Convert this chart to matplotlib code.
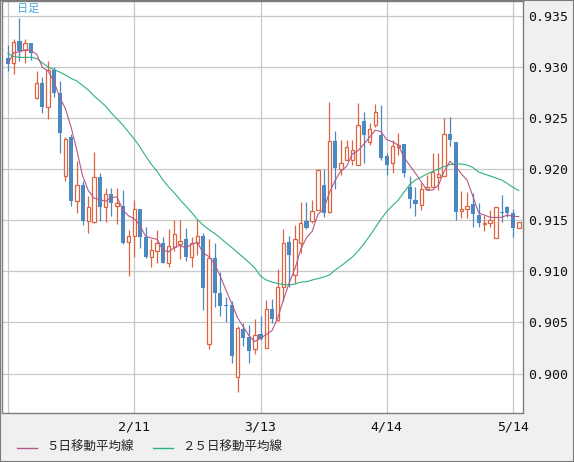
import numpy as np
import pandas as pd
import matplotlib
matplotlib.use("Agg")
import matplotlib.pyplot as plt
from matplotlib.lines import Line2D
from matplotlib.patches import Rectangle

# daily candles (price)
open_ = [0.93095, 0.93040, 0.93258, 0.93170, 0.93239, 0.92703, 0.92850, 0.92614, 0.92974, 0.92752,
         0.91938, 0.92317, 0.91693, 0.91847, 0.91497, 0.91481, 0.91922, 0.91634, 0.91759, 0.91641,
         0.91641, 0.91284, 0.91347, 0.91609, 0.91334, 0.91144, 0.91205, 0.91276, 0.91085, 0.91242,
         0.91269, 0.91318, 0.91144, 0.91276, 0.91347, 0.90287, 0.91129, 0.90786, 0.90671, 0.90671,
         0.89962, 0.90436, 0.90354, 0.90237, 0.90384, 0.90253, 0.90629, 0.90524, 0.90847, 0.91288,
         0.90965, 0.91282, 0.91494, 0.91494, 0.91602, 0.91847, 0.91578, 0.92278, 0.91999, 0.92092,
         0.92092, 0.92043, 0.92474, 0.92265, 0.92432, 0.92337, 0.92131, 0.92066, 0.92222, 0.92246,
         0.91825, 0.91700, 0.91651, 0.91805, 0.91830, 0.91928, 0.91935, 0.92347, 0.92265, 0.91597,
         0.91612, 0.91661, 0.91558, 0.91465, 0.91478, 0.91325, 0.91582, 0.91628, 0.91570, 0.91423]
high = [0.93219, 0.93278, 0.93487, 0.93278, 0.93242, 0.92964, 0.92908, 0.93062, 0.93008, 0.92866,
        0.92317, 0.92344, 0.92082, 0.91886, 0.91739, 0.92173, 0.91965, 0.91818, 0.91818, 0.91818,
        0.91798, 0.91411, 0.91705, 0.91612, 0.91435, 0.91315, 0.91411, 0.91337, 0.91416, 0.91504,
        0.91504, 0.91423, 0.91334, 0.91504, 0.91374, 0.91315, 0.91276, 0.90994, 0.90749, 0.90715,
        0.90465, 0.90499, 0.90475, 0.90532, 0.90563, 0.90720, 0.90730, 0.91021, 0.91413, 0.91347,
        0.91460, 0.91683, 0.91683, 0.91700, 0.91998, 0.91999, 0.92663, 0.92376, 0.92288, 0.92288,
        0.92288, 0.92654, 0.92565, 0.92452, 0.92638, 0.92631, 0.92158, 0.92288, 0.92360, 0.92249,
        0.91935, 0.91825, 0.91869, 0.91945, 0.92158, 0.92161, 0.92499, 0.92509, 0.92268, 0.91793,
        0.91781, 0.91772, 0.91674, 0.91553, 0.91602, 0.91628, 0.91749, 0.91641, 0.91612, 0.91487]
low = [0.92967, 0.92932, 0.93062, 0.93040, 0.93072, 0.92690, 0.92553, 0.92491, 0.92712, 0.92158,
       0.91891, 0.91641, 0.91577, 0.91455, 0.91372, 0.91475, 0.91497, 0.91484, 0.91543, 0.91465,
       0.91269, 0.90955, 0.91141, 0.91230, 0.91132, 0.91046, 0.91080, 0.91083, 0.91040, 0.91200,
       0.91122, 0.91102, 0.91040, 0.91161, 0.90622, 0.90237, 0.90651, 0.90563, 0.90504, 0.90100,
       0.89821, 0.90270, 0.90106, 0.90191, 0.90328, 0.90247, 0.90492, 0.90514, 0.90710, 0.90850,
       0.90884, 0.91178, 0.91420, 0.91478, 0.91598, 0.91529, 0.91575, 0.91805, 0.91945, 0.92090,
       0.92043, 0.92040, 0.92060, 0.92239, 0.92418, 0.92092, 0.91945, 0.91968, 0.92141, 0.91922,
       0.91619, 0.91543, 0.91602, 0.91798, 0.91828, 0.91798, 0.91932, 0.92234, 0.91509, 0.91521,
       0.91521, 0.91438, 0.91438, 0.91399, 0.91432, 0.91323, 0.91484, 0.91530, 0.91333, 0.91423]
close = [0.93036, 0.93253, 0.93163, 0.93236, 0.93138, 0.92847, 0.92614, 0.92974, 0.92746, 0.92352,
         0.92298, 0.91693, 0.91847, 0.91497, 0.91628, 0.91922, 0.91634, 0.91756, 0.91671, 0.91671,
         0.91282, 0.91347, 0.91609, 0.91334, 0.91141, 0.91210, 0.91276, 0.91085, 0.91246, 0.91367,
         0.91301, 0.91144, 0.91276, 0.91347, 0.90835, 0.91129, 0.90786, 0.90661, 0.90666, 0.90174,
         0.90443, 0.90345, 0.90223, 0.90380, 0.90335, 0.90629, 0.90534, 0.90844, 0.91276, 0.91164,
         0.91315, 0.91472, 0.91423, 0.91592, 0.91994, 0.91576, 0.92278, 0.92017, 0.92060, 0.92216,
         0.92190, 0.92435, 0.92337, 0.92396, 0.92565, 0.92115, 0.92043, 0.92229, 0.92239, 0.91968,
         0.91713, 0.91661, 0.91808, 0.91825, 0.91979, 0.91955, 0.92347, 0.92288, 0.91578, 0.91612,
         0.91641, 0.91563, 0.91470, 0.91478, 0.91504, 0.91628, 0.91573, 0.91576, 0.91423, 0.91487]

# 25-day moving average as drawn on the chart
ma25 = [0.93136, 0.93106, 0.93098, 0.93098, 0.93098, 0.93087, 0.93043, 0.93003, 0.92979, 0.92954,
        0.92925, 0.92891, 0.92866, 0.92822, 0.92778, 0.92719, 0.92670, 0.92621, 0.92553, 0.92494,
        0.92435, 0.92366, 0.92298, 0.92219, 0.92131, 0.92048, 0.91979, 0.91896, 0.91827, 0.91769,
        0.91700, 0.91641, 0.91578, 0.91509, 0.91455, 0.91411, 0.91372, 0.91328, 0.91279, 0.91234,
        0.91185, 0.91137, 0.91088, 0.91034, 0.90955, 0.90916, 0.90896, 0.90882, 0.90872, 0.90867,
        0.90877, 0.90896, 0.90899, 0.90916, 0.90931, 0.90945, 0.90965, 0.91014, 0.91053, 0.91097,
        0.91141, 0.91200, 0.91269, 0.91347, 0.91430, 0.91514, 0.91587, 0.91646, 0.91700, 0.91778,
        0.91852, 0.91896, 0.91925, 0.91955, 0.91979, 0.92004, 0.92028, 0.92048, 0.92053, 0.92053,
        0.92043, 0.92019, 0.91974, 0.91955, 0.91935, 0.91916, 0.91896, 0.91862, 0.91823, 0.91793]

tick_pos = [0, 22, 44, 66, 88]
tick_labels = ["", "2/11", "3/13", "4/14", "5/14"]
y_ticks = [0.900, 0.905, 0.910, 0.915, 0.920, 0.925, 0.930, 0.935]

UP = "#dd6440"
DOWN = "#4a89c2"
MA5_C = "#b5588a"
MA25_C = "#2cb27a"
JP = ["Noto Sans CJK JP", "DejaVu Sans"]

df = pd.DataFrame({"open": open_, "high": high, "low": low, "close": close})
df["ma5"] = df["close"].rolling(5, min_periods=1).mean()
df["ma25"] = ma25
x = np.arange(len(df))

fig = plt.figure(figsize=(5.74, 4.62), dpi=100, facecolor="#f0f0f0")
ax = fig.add_axes([1.5 / 574, 49.5 / 462, 521.5 / 574, 411.5 / 462])
ax.set_facecolor("white")

for y in y_ticks:
    ax.axhline(y, color="#c8c8c8", lw=0.9, zorder=0)
for t in tick_pos:
    ax.axvline(t, color="#c8c8c8", lw=0.9, zorder=0)

up = df["close"] >= df["open"]
dn = ~up
min_h = 0.00008

# wicks
top = np.maximum(df["open"], df["close"])
bot = np.minimum(df["open"], df["close"])
ax.vlines(x[up], top[up], df["high"][up], color=UP, lw=0.9, zorder=2)
ax.vlines(x[up], df["low"][up], bot[up], color=UP, lw=0.9, zorder=2)
ax.vlines(x[dn], df["low"][dn], df["high"][dn], color=DOWN, lw=0.9, zorder=2)

# bodies
ax.bar(x[up], np.maximum(top[up] - bot[up], min_h), bottom=bot[up], width=0.6,
       facecolor="white", edgecolor=UP, linewidth=0.9, zorder=2)
ax.bar(x[dn], np.maximum(top[dn] - bot[dn], min_h), bottom=bot[dn], width=0.72,
       color=DOWN, linewidth=0, zorder=2)

ax.plot(x, df["ma25"], color=MA25_C, lw=0.8, zorder=3)
ax.plot(x, df["ma5"], color=MA5_C, lw=0.8, zorder=3)

ax.set_xlim(-1.13, 89.73)
ax.set_ylim(0.89618, 0.93650)
ax.set_xticks(tick_pos)
ax.set_xticklabels(tick_labels)
ax.set_yticks(y_ticks)
ax.set_yticklabels([f"{v:.3f}" for v in y_ticks])
ax.yaxis.tick_right()
ax.tick_params(length=0, labelsize=9.5, colors="#111111")
ax.tick_params(axis="x", pad=6)
ax.tick_params(axis="y", pad=4)
for lbl in ax.get_xticklabels() + ax.get_yticklabels():
    lbl.set_family("DejaVu Sans Mono")
for s in ax.spines.values():
    s.set_color("#7d7d7d")
    s.set_linewidth(1)

fig.text(17 / 574, 1 - 4 / 462, "日足", color="#45aade", fontsize=8,
         family=JP, va="top", ha="left")

# legend at the bottom
ly = 1 - 447.5 / 462
fig.add_artist(Line2D([16.5 / 574, 36.5 / 574], [ly, ly], color=MA5_C, lw=1))
fig.text(46 / 574, ly, "５日移動平均線", fontsize=9, family=JP, va="center", color="#222222")
fig.add_artist(Line2D([153 / 574, 173 / 574], [ly, ly], color=MA25_C, lw=1))
fig.text(182 / 574, ly, "２５日移動平均線", fontsize=9, family=JP, va="center", color="#222222")

fig.patches.append(Rectangle((0, 0), 1, 1, transform=fig.transFigure, fill=False,
                             edgecolor="#7a7a7a", lw=1.5))

fig.savefig("out.png", dpi=100, facecolor=fig.get_facecolor())
